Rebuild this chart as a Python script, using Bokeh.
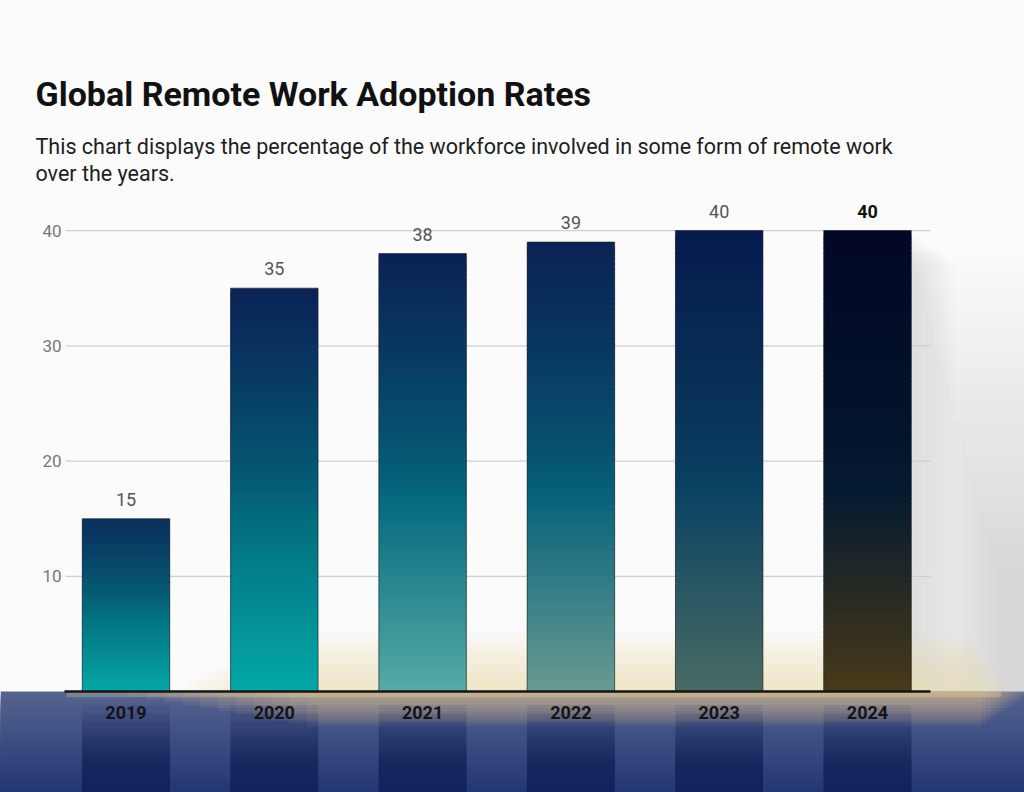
import numpy as np
from bokeh.plotting import figure
from bokeh.models import Range1d, FixedTicker, BoxAnnotation, Title, LinearAxis
from bokeh.core.properties import value
from bokeh.embed import file_html
from bokeh.resources import INLINE

# ---- data ----
years = ["2019", "2020", "2021", "2022", "2023", "2024"]
adoption = [15, 35, 38, 39, 40, 40]
y_ticks = [10, 20, 30, 40]

title_text = "Global Remote Work Adoption Rates"
subtitle_line1 = "This chart displays the percentage of the workforce involved in some form of remote work"
subtitle_line2 = "over the years."

# ---- styles ----
bar_bottom_colors = ["#06a8a6", "#04aaa8", "#58aca6", "#6a9c92", "#4a6c64", "#4a3a18"]
bar_mid_colors = ["#03707f", "#036a7e", "#046a7e", "#05627a", "#0a4262", "#041a30"]
bar_top_colors = ["#0a2f5c", "#0a2357", "#0a2256", "#0a2254", "#061c4e", "#020826"]
FONT = "Roboto"
BAR_W = 0.59

def hex2rgb(h):
    h = h.lstrip("#")
    return np.array([int(h[i:i + 2], 16) for i in (0, 2, 4)], dtype=float)

def rgb2hex(c):
    c = np.clip(np.round(c), 0, 255).astype(int)
    return "#%02x%02x%02x" % tuple(c)

def mix(a, b, w):
    return rgb2hex(hex2rgb(a) * (1 - w) + hex2rgb(b) * w)

x_idx = list(range(len(years)))
x_lo, x_hi = -0.408, len(years) - 1 + 0.425
Y_BOT = -8.76

p = figure(width=1024, height=792,
           x_range=Range1d(-0.8463, 6.0587), y_range=Range1d(Y_BOT, 43.04),
           output_backend="svg", toolbar_location=None,
           x_axis_location=None, y_axis_location=None,
           min_border_left=0, min_border_right=0, min_border_bottom=0, min_border_top=195,
           background_fill_color="#fbfbfb", border_fill_color="#fbfbfb",
           outline_line_color=None)
p.title.visible = False
p.xgrid.visible = False
p.ygrid.visible = False

# titles (first added sits closest to the plot)
p.add_layout(Title(text=subtitle_line1 + "\n" + subtitle_line2, text_font=FONT,
                   text_font_size="21.5px", text_line_height=1.07,
                   text_font_style="normal", text_color="#1e1e1e", offset=35, standoff=20), "above")
p.add_layout(Title(text=title_text, text_font=FONT, text_font_size="34px",
                   text_font_style="bold", text_color="#111111", offset=35, standoff=16), "above")

# grey shading on the right of the wall, fading upwards and leftwards
for k in range(18):
    p.add_layout(BoxAnnotation(left=5.28 + k * 0.035, bottom=0, top=38 - k * 1.6,
                               fill_color="#8a8a8a", fill_alpha=0.018, line_color=None,
                               level="underlay"))
# soft shadow to the right of the last bar
for k in range(8):
    p.add_layout(BoxAnnotation(left=5.29, right=5.34 + k * 0.035, bottom=0, top=39.6 - k * 0.35,
                               fill_color="#9a9a9a", fill_alpha=0.03, line_color=None,
                               level="underlay"))
# warm glow on the wall just above the floor
for k in range(14):
    p.add_layout(BoxAnnotation(left=0.3 + k * 0.06, right=5.95 - k * 0.02, bottom=0,
                               top=0.25 + k * 0.38, fill_color="#f4dca6", fill_alpha=0.06,
                               line_color=None, level="underlay"))

# floor: vertical gradient from the baseline down (overlapping layers, no seams)
n_floor = 30
for k in range(n_floor):
    t0 = Y_BOT * k / n_floor
    p.add_layout(BoxAnnotation(top=t0, fill_color=mix("#56638f", "#223774", k / (n_floor - 1)),
                               fill_alpha=1.0, line_color=None, level="underlay"))
# golden glow on the floor just under the baseline, fading down and towards the left
for k in range(12):
    p.add_layout(BoxAnnotation(left=-0.1 + k * 0.12, right=6.1 - k * 0.03, top=0,
                               bottom=-0.15 - k * 0.26, fill_color="#f0cf88",
                               fill_alpha=0.08, line_color=None, level="underlay"))
p.add_layout(BoxAnnotation(left=-0.4, right=5.9, top=0, bottom=-0.5, fill_color="#f8e2a6",
                           fill_alpha=0.25, line_color=None, level="underlay"))

# bar reflections on the floor (darker columns fading in from the glow)
refl_alpha = [0.08, 0.09, 0.1, 0.11, 0.12, 0.13, 0.14, 0.15]
for k, a in enumerate(refl_alpha):
    p.quad(left=[i - BAR_W / 2 for i in x_idx], right=[i + BAR_W / 2 for i in x_idx],
           top=[-1.2 - k * 0.7] * len(years), bottom=[Y_BOT] * len(years),
           fill_color="#0b1a50", fill_alpha=a, line_color=None)

# horizontal grid lines
p.segment(x0=[x_lo] * len(y_ticks), x1=[x_hi] * len(y_ticks), y0=y_ticks, y1=y_ticks,
          line_color="#cfcfcf", line_width=1.3)

# gradient bars: each bar drawn as overlapping slices from its value
N = 90
L, R, B, T, C = [], [], [], [], []
for i, v in enumerate(adoption):
    for k in range(N):
        t = (k + 0.5) / N
        if t < 0.45:
            col = mix(bar_bottom_colors[i], bar_mid_colors[i], t / 0.45)
        else:
            col = mix(bar_mid_colors[i], bar_top_colors[i], ((t - 0.45) / 0.55) ** 0.8)
        L.append(i - BAR_W / 2)
        R.append(i + BAR_W / 2)
        B.append(max(0.0, v * (k - 0.8) / N))
        T.append(v * (k + 1) / N)
        C.append(col)
p.quad(left=L, right=R, bottom=B, top=T, fill_color=C, line_color=None)
p.quad(left=[i - BAR_W / 2 for i in x_idx], right=[i + BAR_W / 2 for i in x_idx],
       bottom=[0] * len(years), top=adoption, fill_color=None, line_color="#1c1c1c",
       line_width=1, line_alpha=0.6)

# value labels
p.text(x=x_idx[:-1], y=adoption[:-1], text=[str(v) for v in adoption[:-1]],
       text_align="center", text_baseline="bottom", y_offset=-13,
       text_font=value(FONT), text_font_size="18px", text_color="#555555")
p.text(x=x_idx[-1:], y=adoption[-1:], text=[str(v) for v in adoption[-1:]],
       text_align="center", text_baseline="bottom", y_offset=-13,
       text_font=value(FONT), text_font_size="18px", text_font_style="bold",
       text_color="#111111")

# y axis (labels only) placed at the left end of the grid lines
yaxis = LinearAxis(fixed_location=x_lo, ticker=FixedTicker(ticks=y_ticks),
                   axis_line_color=None, major_tick_line_color=None, minor_tick_line_color=None,
                   major_tick_out=0, major_tick_in=0,
                   major_label_standoff=4, major_label_text_font=FONT,
                   major_label_text_font_size="17px", major_label_text_color="#777777")
p.add_layout(yaxis, "left")

# x axis at y = 0 with year labels
xaxis = LinearAxis(fixed_location=0, ticker=FixedTicker(ticks=x_idx),
                   major_label_overrides={i: y for i, y in zip(x_idx, years)},
                   bounds=(x_lo - 0.01, x_hi), axis_line_color="#151515", axis_line_width=2.5,
                   major_tick_line_color=None, minor_tick_line_color=None,
                   major_tick_out=0, major_tick_in=0,
                   major_label_standoff=14, major_label_text_font=FONT,
                   major_label_text_font_size="18px", major_label_text_font_style="bold",
                   major_label_text_color="#141414")
p.add_layout(xaxis, "below")

open("out.html", "w").write(file_html(p, INLINE))
